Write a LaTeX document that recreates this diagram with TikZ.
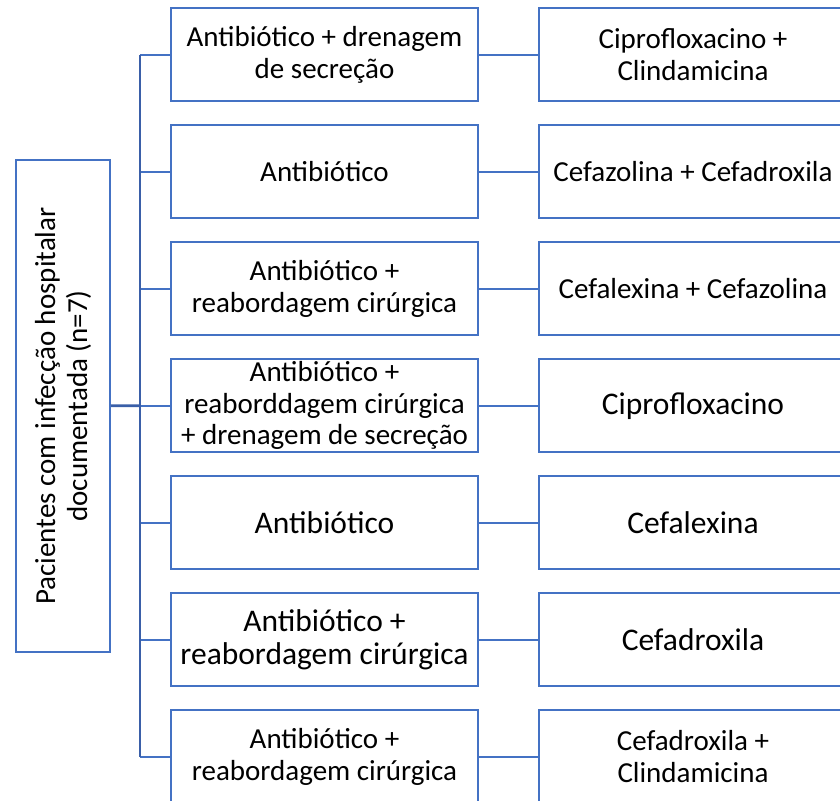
\documentclass[tikz,border=0pt]{standalone}
\usepackage{fontspec}
\setmainfont{Carlito}
\definecolor{boxblue}{HTML}{4472C4}
\definecolor{trunkblue}{HTML}{3A5FA8}
\begin{document}
\begin{tikzpicture}[x=1pt,y=1pt,
  box/.style={draw=boxblue, line width=2pt, fill=white, rectangle, inner sep=0pt, align=center, minimum height=93.5pt},
  mid/.style={box, minimum width=307pt},
  rgt/.style={box, minimum width=308pt},
  sm/.style={font=\fontsize{29}{32}\selectfont},
  lg/.style={font=\fontsize{31.5}{33}\selectfont},
  branch/.style={draw=boxblue, line width=1.8pt},
  trunk/.style={draw=trunkblue, line width=2.8pt}]
\useasboundingbox (0,0) rectangle (840,800);
\clip (0,0) rectangle (840,800);

% left box
\node[box, rotate=90, minimum width=492pt, minimum height=94pt, sm] (L) at (63,394) {Pacientes com infecção hospitalar\\documentada (n=7)};

% middle boxes
\node[mid, sm] (m1) at (324.5,745.25) {Antibiótico + drenagem\\de secreção};
\node[mid, sm] (m2) at (324.5,628.25) {Antibiótico};
\node[mid, sm] (m3) at (324.5,511.25) {Antibiótico +\\reabordagem cirúrgica};
\node[mid, font=\fontsize{29}{31.5}\selectfont] (m4) at (324.5,394.25) {Antibiótico +\\reaborddagem cirúrgica\\+ drenagem de secreção};
\node[mid, lg] (m5) at (324.5,277.25) {Antibiótico};
\node[mid, lg] (m6) at (324.5,160.25) {Antibiótico +\\reabordagem cirúrgica};
\node[mid, sm] (m7) at (324.5,43.25) {Antibiótico +\\reabordagem cirúrgica};

% right boxes
\node[rgt, sm] (r1) at (693,745.25) {Ciprofloxacino +\\Clindamicina};
\node[rgt, sm] (r2) at (693,628.25) {Cefazolina + Cefadroxila};
\node[rgt, sm] (r3) at (693,511.25) {Cefalexina + Cefazolina};
\node[rgt, lg] (r4) at (693,394.25) {Ciprofloxacino};
\node[rgt, lg] (r5) at (693,277.25) {Cefalexina};
\node[rgt, lg] (r6) at (693,160.25) {Cefadroxila};
\node[rgt, sm] (r7) at (693,43.25) {Cefadroxila +\\Clindamicina};

% trunk coordinates
\coordinate (t1) at (140,745.25);
\coordinate (t2) at (140,628.25);
\coordinate (t3) at (140,511.25);
\coordinate (t4) at (140,394.25);
\coordinate (t5) at (140,277.25);
\coordinate (t6) at (140,160.25);
\coordinate (t7) at (140,43.25);

% connectors
\foreach \i in {1,...,7} {
  \draw[branch] (t\i) -- (m\i.west);
  \draw[branch] (m\i.east) -- (r\i.west);
}
\draw[trunk] (L) -- (t4);
\draw[trunk] (t1) -- (t7);
\end{tikzpicture}
\end{document}
